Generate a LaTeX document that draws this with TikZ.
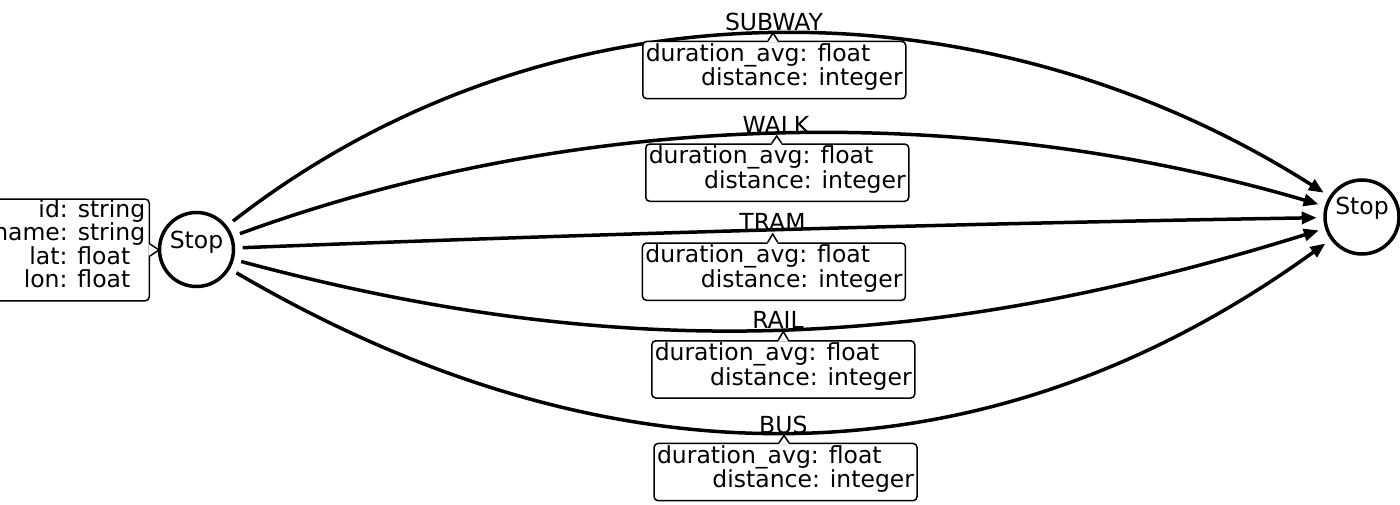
\documentclass[tikz,border=0pt]{standalone}
\usepackage{fontspec}
\setmainfont{DejaVu Sans}
\usetikzlibrary{arrows.meta,calc}
\newcommand{\edgeattrs}{\makebox[257pt][l]{duration\_avg: float}\\\makebox[257pt][r]{distance: integer\rule[-11pt]{0pt}{1pt}}}
\begin{document}
\begin{tikzpicture}[x=1pt,y=-1pt,
  every node/.style={font=\fontsize{23.5}{23.3}\selectfont},
  stop/.style={circle, draw, line width=3.5pt, minimum size=74pt, inner sep=0pt},
  conn/.style={line width=3.5pt, -{Triangle[length=15pt,width=12pt]}, shorten <=7.5pt, shorten >=6.5pt},
  ebox/.style={draw, line width=1.5pt, fill=white, rounded corners=4pt, inner xsep=3pt, inner ysep=2pt, anchor=north west, align=left},
  abox/.style={draw, line width=1.5pt, fill=white, rounded corners=4pt, inner xsep=4pt, inner ysep=0.5pt, anchor=north east, align=right},
  elbl/.style={anchor=base, inner sep=0pt},
  ptr/.style={line width=1.5pt}]
\useasboundingbox (0,0) rectangle (1400,505);

% stop nodes
\node[stop] (L) at (196.5,249.5) {\raisebox{1.5pt}[0pt][0pt]{Stop}};
\node[stop] (R) at (1362,217) {\raisebox{2pt}[0pt][0pt]{Stop}};

% connectors
\draw[conn] (L) .. controls (556,-30) and (991,-19) .. (R);
\draw[conn] (L) .. controls (584,108) and (970,102) .. (R);
\draw[conn] (L) .. controls (600,233.7) and (960,223.5) .. (R);
\draw[conn] (L) .. controls (628,365.5) and (934,350) .. (R);
\draw[conn] (L) .. controls (595,482.5) and (972,499) .. (R);

% node attribute callout
\node[abox] (attrs) at (150,198.3) {id: string\\name: string\\lat: float\rule{15pt}{0pt}\\lon: float\rule{15pt}{0pt}\rule[-13pt]{0pt}{1pt}};
\coordinate (a0) at (159,250);
\fill[white] ($(attrs.east|-a0)+(-1.5,-6)$) -- (a0) -- ($(attrs.east|-a0)+(-1.5,6)$) -- cycle;
\draw[ptr] ($(attrs.east|-a0)+(0,-6)$) -- (a0) -- ($(attrs.east|-a0)+(0,6)$);

% edge callouts
\node[ebox] (b1) at (642,40.7) {\edgeattrs};
\node[ebox] (b2) at (645,143.3) {\edgeattrs};
\node[ebox] (b3) at (641.7,242.3) {\edgeattrs};
\node[ebox] (b4) at (651,340) {\edgeattrs};
\node[ebox] (b5) at (653.3,442.7) {\edgeattrs};

\coordinate (a1) at (773,33);
\coordinate (a2) at (776.7,136);
\coordinate (a3) at (772.7,234);
\coordinate (a4) at (783.3,331.5);
\coordinate (a5) at (784,435.5);

\foreach \i in {1,...,5}{
  \fill[white] ($(a\i|-b\i.north)+(-5,1.5)$) -- (a\i) -- ($(a\i|-b\i.north)+(5,1.5)$) -- cycle;
  \draw[ptr] ($(a\i|-b\i.north)+(-5,0)$) -- (a\i) -- ($(a\i|-b\i.north)+(5,0)$);
}

\node[elbl] (t1) at (774,30.7) {SUBWAY};
\node[elbl] (t2) at (776,133.3) {WALK};
\node[elbl] (t3) at (772.5,230.7) {TRAM};
\node[elbl] (t4) at (778,328.3) {RAIL};
\node[elbl] (t5) at (783.3,433.3) {BUS};
\end{tikzpicture}
\end{document}
